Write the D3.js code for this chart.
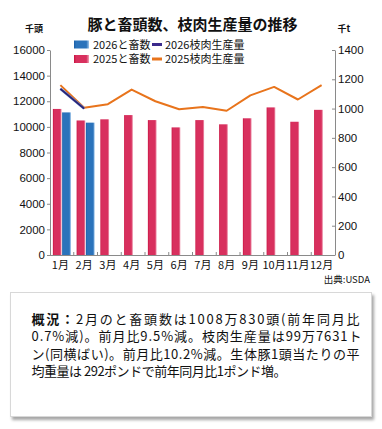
<!DOCTYPE html>
<html><head><meta charset="utf-8">
<script src="https://cdn.jsdelivr.net/npm/d3@7"></script>
<style>
html,body{margin:0;padding:0;background:#fff;}
svg{display:block;}
text{font-family:"Noto Sans CJK JP","Noto Sans",sans-serif;}
</style></head>
<body>
<svg id="c" width="382" height="429"></svg>
<script>
const months = ['1月','2月','3月','4月','5月','6月','7月','8月','9月','10月','11月','12月'];
const pigs2025 = [11400, 10500, 10590, 10920, 10530, 9960, 10530, 10200, 10670, 11520, 10400, 11330];
const pigs2026 = [11130, 10330];
const meat2025 = [1160, 1005, 1030, 1130, 1050, 995, 1010, 985, 1090, 1148, 1062, 1160];
const meat2026 = [1135, 1000];
const leftTicks = [0,2000,4000,6000,8000,10000,12000,14000,16000];
const rightTicks = [0,200,400,600,800,1000,1200,1400];
const title = '豚と畜頭数、枝肉生産量の推移';
const legendItems = [
  {label:'2026と畜数', type:'bar', key:'b26'},
  {label:'2026枝肉生産量', type:'line', color:'#3a2a8c'},
  {label:'2025と畜数', type:'bar', key:'b25'},
  {label:'2025枝肉生産量', type:'line', color:'#e8741c'}
];
const noteLines = [
  ['概況：','2月のと畜頭数は1008万830頭(前年同月比'],
  ['','0.7%減)。前月比9.5%減。枝肉生産量は99万7631ト'],
  ['','ン(同横ばい)。前月比10.2%減。生体豚1頭当たりの平'],
  ['','均重量は 292ポンドで前年同月比1ポンド増。']
];
const noteWidths = [328, 330, 328, 255];

const svg = d3.select('#c');
const defs = svg.append('defs');
function grad(id, stops){
  const g = defs.append('linearGradient').attr('id', id).attr('x1','0').attr('x2','1').attr('y1','0').attr('y2','0');
  stops.forEach(s => g.append('stop').attr('offset', s[0]).attr('stop-color', s[1]));
}
grad('b25', [[0,'#c8103e'],[0.14,'#d8305e'],[0.82,'#d8305e'],[1,'#f0a0b6']]);
grad('b26', [[0,'#1a5fa8'],[0.14,'#2b73bb'],[0.82,'#2b73bb'],[1,'#9cc4ea']]);
const shadow = defs.append('filter').attr('id','sh').attr('x','-5%').attr('y','-5%').attr('width','115%').attr('height','125%');
shadow.append('feDropShadow').attr('dx',2).attr('dy',3).attr('stdDeviation',1.5).attr('flood-color','#000').attr('flood-opacity',0.35);

const L = 50, R = 335, T = 50, B = 255;
const x = d3.scaleBand().domain(months).range([L, R]).paddingInner(0).paddingOuter(0);
const bw = x.bandwidth();
const xs = d3.scaleBand().domain(['2025','2026']).range([bw/2 - 9, bw/2 + 9]).paddingInner(0.06);
const yL = d3.scaleLinear().domain([0,16000]).range([B, T]);
const yR = d3.scaleLinear().domain([0,1400]).range([B, T]);

// title
svg.append('text').attr('x',192.5).attr('y',29.5).attr('text-anchor','middle')
  .attr('font-size',15).attr('font-weight','bold').attr('fill','#111').text(title);
svg.append('text').attr('x',34).attr('y',31.5).attr('text-anchor','middle')
  .attr('font-size',9).attr('font-weight','bold').attr('fill','#111').text('千頭');
svg.append('text').attr('x',344).attr('y',31.5).attr('text-anchor','middle')
  .attr('font-size',9).attr('font-weight','bold').attr('fill','#111').text('千t');

// bars
const g = svg.append('g');
g.selectAll('rect.b25').data(pigs2025).join('rect')
  .attr('x',(d,i)=>x(months[i]) + xs('2025')).attr('width', xs.bandwidth())
  .attr('y', d=>yL(d)).attr('height', d=>yL(0)-yL(d)).attr('fill','url(#b25)');
g.selectAll('rect.b26').data(pigs2026).join('rect')
  .attr('x',(d,i)=>x(months[i]) + xs('2026')).attr('width', xs.bandwidth())
  .attr('y', d=>yL(d)).attr('height', d=>yL(0)-yL(d)).attr('fill','url(#b26)');

// axes
const axisColor = '#8a8a8a';
const la = svg.append('g').attr('transform',`translate(${L},0)`)
  .call(d3.axisLeft(yL).tickValues(leftTicks).tickSize(3).tickSizeOuter(0).tickPadding(2).tickFormat(d3.format('d')));
const ra = svg.append('g').attr('transform',`translate(${R},0)`)
  .call(d3.axisRight(yR).tickValues(rightTicks).tickSize(-3).tickSizeOuter(0).tickPadding(3).tickFormat(d3.format('d')));
[la, ra].forEach(a => {
  a.select('.domain').attr('stroke',axisColor);
  a.selectAll('.tick line').attr('stroke',axisColor);
  a.selectAll('.tick text').attr('font-size',11.5).attr('fill','#111')
    .style('font-family','"Liberation Sans","Noto Sans",sans-serif');
});
// x axis
svg.append('line').attr('x1',L).attr('x2',R).attr('y1',B+0.5).attr('y2',B+0.5).attr('stroke',axisColor);
const bounds = months.slice(1).map(m => x(m));
svg.selectAll('line.xt').data(bounds).join('line')
  .attr('x1',d=>d).attr('x2',d=>d).attr('y1',B).attr('y2',B-3).attr('stroke',axisColor);
svg.selectAll('text.xl').data(months).join('text')
  .attr('x',d=>x(d)+bw/2 - 1.5).attr('y',269).attr('text-anchor','middle')
  .attr('font-size',11).attr('fill','#111').text(d=>d);

// lines
const line = (arr) => d3.line().x((d,i)=>x(months[i])+bw/2 - 1.5).y(d=>yR(d))(arr);
svg.append('path').attr('d', line(meat2025)).attr('fill','none').attr('stroke','#e8741c').attr('stroke-width',2).attr('stroke-linejoin','round');
svg.append('path').attr('d', line(meat2026)).attr('fill','none').attr('stroke','#5a7ad0').attr('stroke-width',2.6);
svg.append('path').attr('d', line(meat2026)).attr('fill','none').attr('stroke','#2c2470').attr('stroke-width',1.6);

// legend
const lg = svg.append('g');
legendItems.forEach((it, i) => {
  const col = i % 2, row = Math.floor(i/2);
  const cy = 44.5 + row*14.5;
  if (col === 0) {
    lg.append('rect').attr('x',74).attr('y',cy-4).attr('width',15).attr('height',8).attr('fill',`url(#${it.key})`);
    lg.append('text').attr('x',93).attr('y',cy+4).attr('font-size',11).attr('fill','#111').text(it.label);
  } else {
    lg.append('line').attr('x1',152).attr('x2',162).attr('y1',cy).attr('y2',cy).attr('stroke',it.color).attr('stroke-width',3);
    lg.append('text').attr('x',165).attr('y',cy+4).attr('font-size',11).attr('fill','#111').text(it.label);
  }
});

// source
svg.append('text').attr('x',370).attr('y',283).attr('text-anchor','end')
  .attr('font-size',9.5).attr('fill','#111').text('出典:USDA');

// note box
svg.append('rect').attr('x',10.5).attr('y',292.5).attr('width',361).attr('height',124)
  .attr('fill','#fff').attr('stroke','#d8d8d8').attr('filter','url(#sh)');
noteLines.forEach((ln, i) => {
  const t = svg.append('text').attr('x',31.5).attr('y',323.5 + i*17.6)
    .attr('font-size',13).attr('fill','#111')
    .attr('textLength', noteWidths[i]).attr('lengthAdjust','spacing');
  if (ln[0]) t.append('tspan').attr('font-weight','bold').text(ln[0]);
  t.append('tspan').text(ln[1]);
});
</script>
</body></html>
